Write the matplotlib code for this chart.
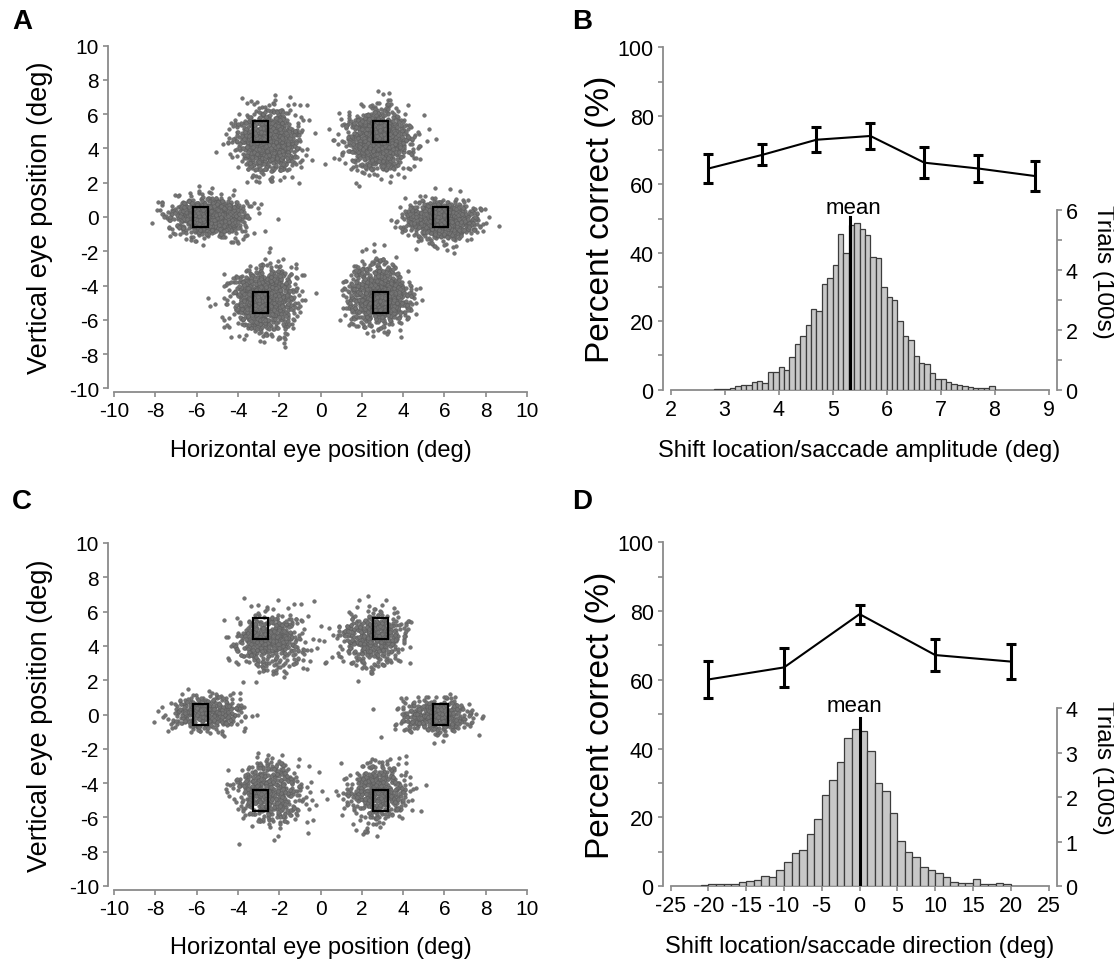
import numpy as np
import matplotlib
matplotlib.use("Agg")
import matplotlib.pyplot as plt
from matplotlib.patches import Rectangle
from matplotlib.ticker import MultipleLocator

plt.rcParams['font.family'] = ['Liberation Sans', 'DejaVu Sans']
plt.rcParams['axes.unicode_minus'] = False

W, H = 1114, 962
GRAY = '#8a8a8a'

# saccade targets (deg) and the box drawn around each
target_x = [-2.9, 2.9, -5.8, 5.8, -2.9, 2.9]
target_y = [5.0, 5.0, 0.0, 0.0, -5.0, -5.0]
box_w, box_h = 0.72, 1.2

# eye position clouds: centre, spread, count
cloud_a_x = [-2.5, 2.8, -5.4, 5.9, -2.7, 2.8]
cloud_a_y = [4.4, 4.5, 0.0, -0.2, -4.8, -4.6]
cloud_a_sx = [0.72, 0.75, 0.85, 0.8, 0.72, 0.7]
cloud_a_sy = [0.85, 0.85, 0.55, 0.55, 0.9, 0.85]
cloud_a_n = [1150, 1150, 1050, 1050, 1150, 1150]

cloud_c_x = [-2.4, 2.6, -5.5, 5.5, -2.5, 2.7]
cloud_c_y = [4.3, 4.5, 0.1, -0.1, -4.5, -4.6]
cloud_c_sx = [0.85, 0.75, 0.9, 0.8, 0.85, 0.72]
cloud_c_sy = [0.8, 0.78, 0.5, 0.5, 0.92, 0.88]
cloud_c_n = [520, 520, 430, 430, 520, 520]

# panel B: percent correct vs shift amplitude, and amplitude histogram
amp_x = [2.7, 3.7, 4.7, 5.7, 6.7, 7.7, 8.75]
amp_pc = [64.6, 68.6, 73.0, 74.1, 66.3, 64.6, 62.4]
amp_err = [4.3, 3.1, 3.7, 3.7, 4.5, 4.0, 4.4]
amp_bins = np.round(np.arange(2.8, 7.95, 0.1), 1)
amp_counts = [0.01, 0.01, 0.03, 0.07, 0.12, 0.16, 0.17, 0.25, 0.30, 0.21,
              0.60, 0.58, 0.75, 0.65, 1.09, 1.52, 1.80, 2.16, 2.69, 2.64,
              3.55, 3.73, 4.17, 5.20, 4.57, 5.51, 5.58, 5.39, 5.19, 4.43,
              4.40, 3.45, 3.09, 3.01, 2.29, 1.80, 1.67, 1.12, 0.89, 0.86,
              0.56, 0.37, 0.35, 0.25, 0.18, 0.17, 0.12, 0.09, 0.06, 0.07,
              0.06, 0.12]
amp_mean = 5.32

# panel D: percent correct vs shift direction, and direction histogram
dir_x = [-20, -10, 0, 10, 20]
dir_pc = [60.1, 63.6, 79.1, 67.2, 65.3]
dir_err = [5.4, 5.6, 2.8, 4.6, 5.0]
dir_bins = list(range(-21, 20))
dir_counts = [0.02, 0.05, 0.05, 0.05, 0.05, 0.08, 0.12, 0.14, 0.23, 0.21,
              0.36, 0.55, 0.75, 0.81, 1.16, 1.50, 2.05, 2.39, 2.79, 3.33,
              3.54, 3.50, 3.05, 2.33, 2.15, 1.64, 1.02, 0.76, 0.66, 0.43,
              0.37, 0.29, 0.20, 0.10, 0.06, 0.06, 0.16, 0.05, 0.05, 0.06,
              0.04]
dir_mean = 0.0


def px_rect(x0, x1, y_top, y_bot):
    return [x0 / W, 1 - y_bot / H, (x1 - x0) / W, (y_bot - y_top) / H]


def style_spine(ax, side, out_px):
    sp = ax.spines[side]
    sp.set_color(GRAY)
    sp.set_linewidth(1.3)
    sp.set_position(('outward', out_px * 72 / 100))


def eye_panel(ax, cx, cy, sx, sy, n, seed):
    rng = np.random.default_rng(seed)
    for i in range(len(cx)):
        px = rng.normal(cx[i], sx[i], n[i])
        py = rng.normal(cy[i], sy[i], n[i])
        ax.scatter(px, py, s=7, color='#737373',
                   edgecolors='#5a5a5a', linewidths=0.3, zorder=2)
    for tx, ty in zip(target_x, target_y):
        ax.add_patch(Rectangle((tx - box_w / 2, ty - box_h / 2), box_w, box_h,
                               fill=False, edgecolor='black', lw=1.6, zorder=3))
    ax.set_xlim(-10, 10)
    ax.set_ylim(-10, 10)
    ax.set_xticks(range(-10, 11, 2))
    ax.set_yticks(range(-10, 11, 2))
    ax.spines['top'].set_visible(False)
    ax.spines['right'].set_visible(False)
    style_spine(ax, 'left', 6)
    style_spine(ax, 'bottom', 3.5)
    ax.tick_params(direction='out', length=3.5, width=1.2, color=GRAY,
                   labelsize=15, pad=3)
    ax.set_xlabel('Horizontal eye position (deg)', fontsize=17, va='center')
    ax.set_ylabel('Vertical eye position (deg)', fontsize=19.5, va='center')
    ax.xaxis.set_label_coords(0.5, -0.179)
    ax.yaxis.set_label_coords(-0.179, 0.5)


def perf_panel(ax, x, pc, err, bins, counts, width, mean, xlim, xticks,
               right_top, right_ticks, line_top, xlabel, text_dx):
    ax.errorbar(x, pc, yerr=err, color='black', lw=1.5, elinewidth=2.2,
                capsize=3.6, capthick=2.2, zorder=3)
    ax.set_xlim(*xlim)
    ax.set_ylim(0, 100)
    ax.set_xticks(xticks)
    ax.yaxis.set_major_locator(MultipleLocator(20))
    ax.yaxis.set_minor_locator(MultipleLocator(10))
    ax.spines['top'].set_visible(False)
    ax.spines['right'].set_visible(False)
    style_spine(ax, 'left', 8)
    style_spine(ax, 'bottom', 0)
    ax.tick_params(which='both', direction='out', length=3.5, width=1.2,
                   color=GRAY, labelsize=15.5, pad=3)
    ax.set_xlabel(xlabel, fontsize=17, va='center')
    ax.set_ylabel('Percent correct (%)', fontsize=24, va='center')
    ax.xaxis.set_label_coords(0.5, -0.175)
    ax.yaxis.set_label_coords(-0.185, 0.5)

    ax2 = ax.twinx()
    ax2.bar(bins, counts, width=width, align='edge', color='#c8c8c8',
            edgecolor='#3c3c3c', linewidth=0.9, zorder=2)
    ax2.plot([mean, mean], [0, line_top], color='black', lw=2.2, zorder=4)
    ax2.text(mean + text_dx, line_top + 0.15, 'mean', ha='center',
             va='baseline', fontsize=16)
    ax2.set_ylim(0, right_top)
    ax2.set_yticks(right_ticks)
    ax2.set_yticks(list(range(right_ticks[-1] + 1)), minor=True)
    for side in ['top', 'left', 'bottom']:
        ax2.spines[side].set_visible(False)
    style_spine(ax2, 'right', 8)
    ax2.spines['right'].set_bounds(0, right_ticks[-1])
    ax2.tick_params(which='both', direction='out', length=3.5, width=1.2,
                    color=GRAY, labelsize=15.5, pad=3)
    ax2.set_ylabel('Trials (100s)', fontsize=17.5, rotation=270, va='center')
    ax2.yaxis.set_label_coords(1.145, 0.347)
    return ax2


fig = plt.figure(figsize=(W / 100, H / 100), dpi=100)

ax_a = fig.add_axes(px_rect(114, 527, 46.5, 389.5))
ax_c = fig.add_axes(px_rect(114, 527, 544, 887))
ax_b = fig.add_axes(px_rect(670.7, 1048.5, 48.3, 390.7))
ax_d = fig.add_axes(px_rect(670.7, 1048.5, 543.3, 887))

eye_panel(ax_a, cloud_a_x, cloud_a_y, cloud_a_sx, cloud_a_sy, cloud_a_n, 1)
eye_panel(ax_c, cloud_c_x, cloud_c_y, cloud_c_sx, cloud_c_sy, cloud_c_n, 2)

perf_panel(ax_b, amp_x, amp_pc, amp_err, amp_bins, amp_counts, 0.1, amp_mean,
           (2, 9), range(2, 10), 11.46, [0, 2, 4, 6], 5.78,
           'Shift location/saccade amplitude (deg)', 0.07)
perf_panel(ax_d, dir_x, dir_pc, dir_err, dir_bins, dir_counts, 1.0, dir_mean,
           (-25, 25), range(-25, 26, 5), 7.74, [0, 1, 2, 3, 4], 3.78,
           'Shift location/saccade direction (deg)', -0.7)

for letter, (x, y) in zip('ABCD', [(22, 22), (582, 22), (22, 502), (582, 502)]):
    fig.text(x / W, 1 - y / H, letter, fontsize=20, fontweight='bold',
             ha='center', va='center')

fig.savefig('out.png', dpi=100)
